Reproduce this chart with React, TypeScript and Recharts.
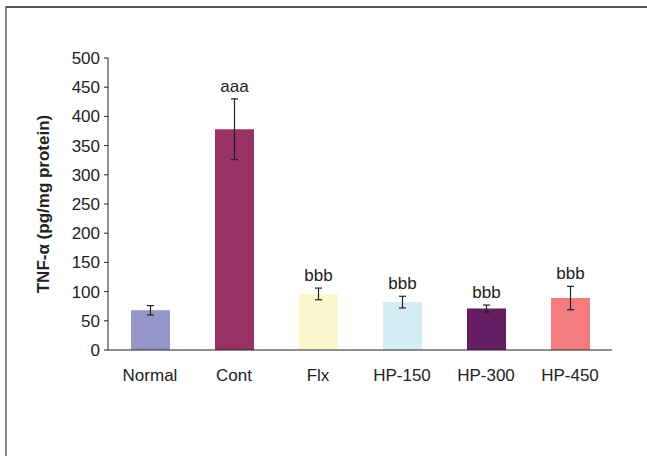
import { BarChart, Bar, XAxis, YAxis, Cell, ErrorBar, LabelList } from 'recharts'

const groups = ['Normal', 'Cont', 'Flx', 'HP-150', 'HP-300', 'HP-450']
const means = [68, 378, 96, 82, 71, 89]
const errors = [8, 52, 10, 10, 6, 20]
const marks = ['', 'aaa', 'bbb', 'bbb', 'bbb', 'bbb']
const colors = ['#9595c8', '#993366', '#faf8cc', '#d4ecf3', '#651d64', '#f27c7e']
const yTicks = [0, 50, 100, 150, 200, 250, 300, 350, 400, 450, 500]

const rows = groups.map((g, i) => ({ group: g, mean: means[i], err: errors[i], mark: marks[i] }))

const font = 'Arial, "Liberation Sans", sans-serif'

// letters sit above the top of the error bar
const renderMark = (props: any) => {
  const { x, y, width, height, index } = props
  const row = rows[index]
  if (!row || !row.mark) return null
  const pxPerUnit = height / row.mean
  const top = y - row.err * pxPerUnit
  return (
    <text x={x + width / 2} y={top - 7} textAnchor="middle" fontSize={17} fill="#222" fontFamily={font}>
      {row.mark}
    </text>
  )
}

const renderYLabel = (props: any) => {
  const vb = props.viewBox
  const cx = vb.x - 17
  const cy = vb.y + vb.height / 2
  return (
    <text
      x={cx}
      y={cy}
      transform={`rotate(-90, ${cx}, ${cy})`}
      textAnchor="middle"
      dominantBaseline="central"
      fontSize={17}
      fontWeight="bold"
      fill="#222"
      fontFamily={font}
    >
      TNF-α (pg/mg protein)
    </text>
  )
}

export default function App() {
  return (
    <div style={{ position: 'absolute', left: 0, top: 0, width: 647, height: 456, background: '#fff', overflow: 'hidden' }}>
      <div style={{ position: 'absolute', left: 0, top: 0 }}>
        <BarChart
          width={647}
          height={456}
          data={rows}
          margin={{ top: 58, right: 35, left: 60, bottom: 76 }}
          barSize={39}
        >
          <XAxis
            dataKey="group"
            tickLine={false}
            axisLine={{ stroke: '#222', strokeWidth: 1.2 }}
            tick={{ fontSize: 17, fill: '#222', fontFamily: font }}
            tickMargin={13}
            height={30}
            interval={0}
          />
          <YAxis
            domain={[0, 500]}
            ticks={yTicks}
            width={48}
            tickSize={4}
            tickMargin={4}
            axisLine={{ stroke: '#222', strokeWidth: 1 }}
            tickLine={{ stroke: '#222' }}
            tick={{ fontSize: 17, fill: '#222', fontFamily: font }}
            interval={0}
            label={renderYLabel}
          />
          <Bar dataKey="mean" isAnimationActive={false}>
            {rows.map((r, i) => (
              <Cell key={r.group} fill={colors[i]} />
            ))}
            <ErrorBar dataKey="err" width={3.5} stroke="#222" strokeWidth={1.2} direction="y" isAnimationActive={false} />
            <LabelList dataKey="mark" content={renderMark} />
          </Bar>
        </BarChart>
      </div>
      <div
        style={{
          position: 'absolute',
          left: 5,
          top: 6,
          width: 700,
          height: 500,
          borderLeft: '2px solid #8a8a8a',
          borderTop: '2px solid #555',
          pointerEvents: 'none',
        }}
      />
    </div>
  )
}
